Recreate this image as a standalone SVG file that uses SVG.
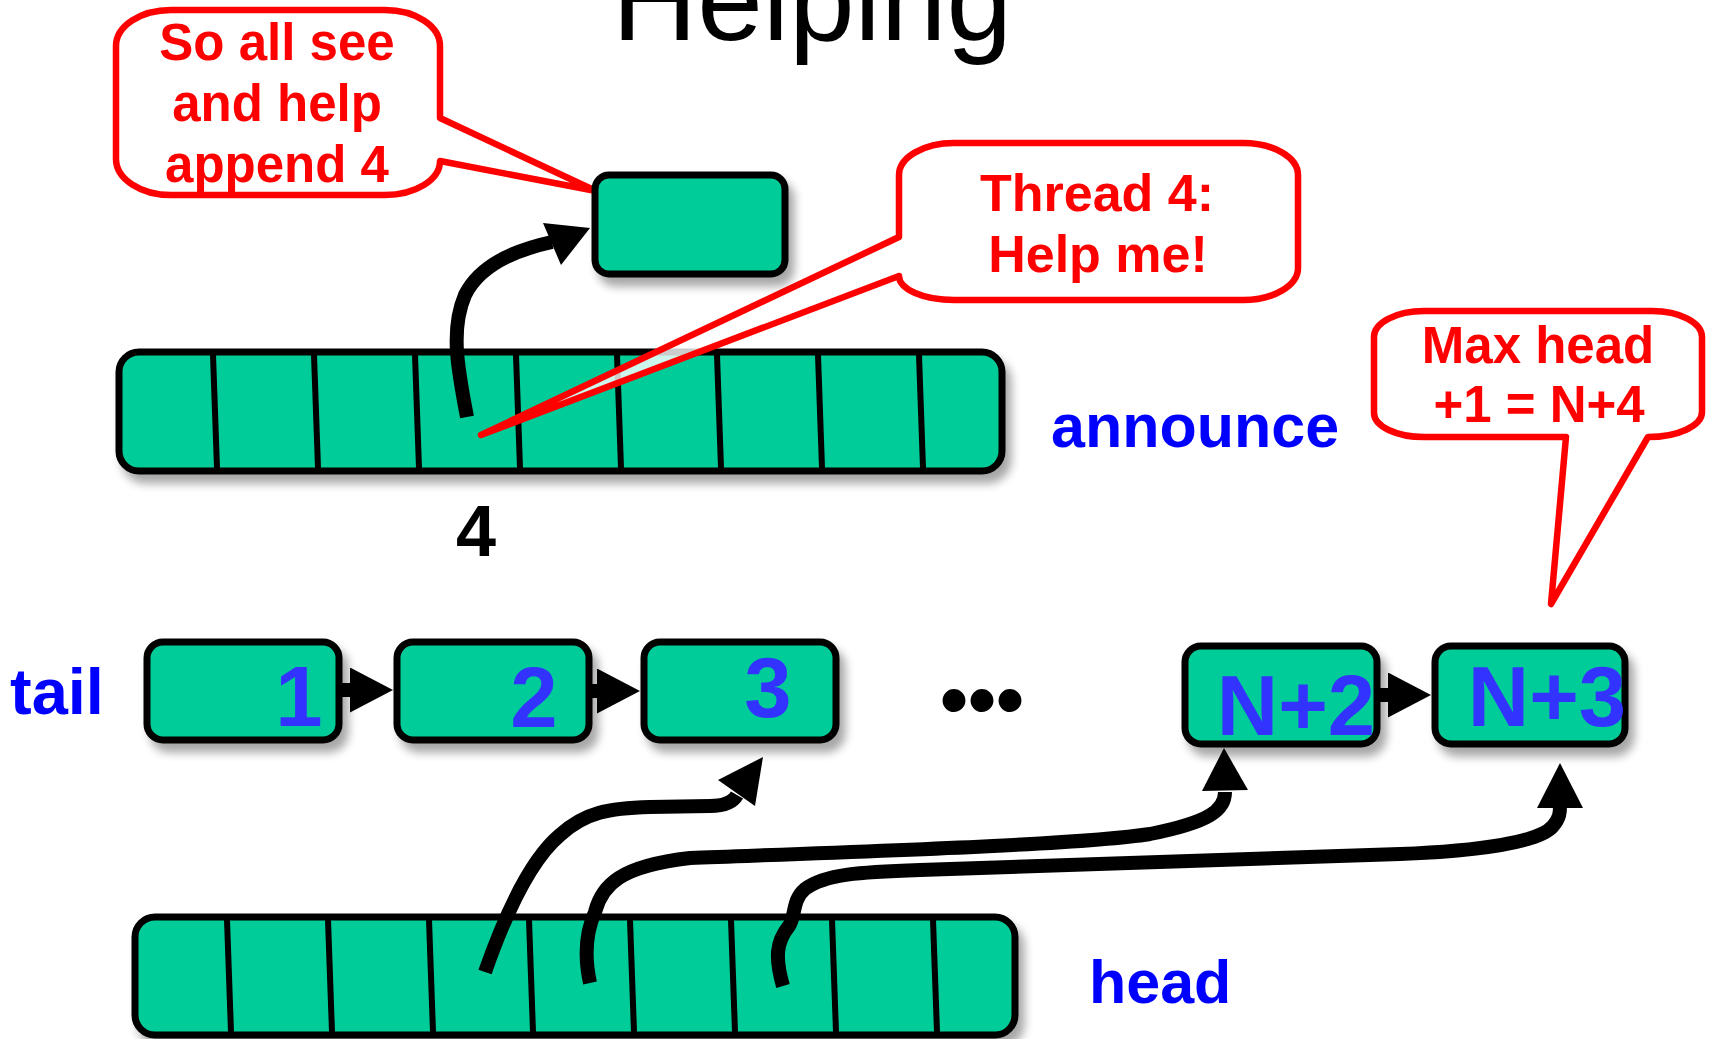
<svg xmlns="http://www.w3.org/2000/svg" width="1713" height="1039" viewBox="0 0 1713 1039">
  <defs>
    <!-- soft drop shadow shared by the green boxes and arrays -->
    <filter id="shadow" x="-10%" y="-20%" width="130%" height="160%">
      <feGaussianBlur in="SourceAlpha" stdDeviation="5"/>
      <feOffset dx="6" dy="9"/>
      <feComponentTransfer><feFuncA type="linear" slope="0.35"/></feComponentTransfer>
      <feMerge><feMergeNode/><feMergeNode in="SourceGraphic"/></feMerge>
    </filter>
    <marker id="link-head" markerUnits="userSpaceOnUse" viewBox="0 0 44 46" markerWidth="44" markerHeight="46" refX="10" refY="22.5" orient="auto">
      <path d="M0,0 L43,22.5 L0,45 Z" fill="#000"/>
    </marker>
    <style>
      .cell { fill: #00CC99; stroke: #000; stroke-width: 7; }
      .div { stroke: #000; stroke-width: 6; }
      .bubble { fill: #fff; fill-opacity: 0.8; stroke: #FF0000; stroke-width: 6.5; stroke-linejoin: round; }
      .red { font-family: "Liberation Sans", Arial, sans-serif; font-weight: bold; fill: #FF0000; text-anchor: middle; }
      .lbl { font-family: "Liberation Sans", Arial, sans-serif; font-weight: bold; fill: #0000FF; }
      .num { font-family: "Liberation Sans", Arial, sans-serif; font-weight: bold; font-size: 85px; fill: #3333FF; text-anchor: middle; }
      .wire { fill: none; stroke: #000; stroke-width: 14; }
      .head { fill: #000; }
      .link { stroke: #000; stroke-width: 14; marker-end: url(#link-head); }
    </style>
  </defs>

  <rect width="1713" height="1039" fill="#fff"/>

  <!-- title -->
  <text x="812" y="40" font-family="Liberation Sans, Arial, sans-serif" font-size="118" text-anchor="middle" fill="#000">Helping</text>

  <!-- announce array -->
  <g id="announce">
    <g filter="url(#shadow)">
      <rect class="cell" x="119" y="352" width="883" height="119" rx="20"/>
    </g>
    <line class="div" x1="213" y1="355" x2="217" y2="468"/>
    <line class="div" x1="314" y1="355" x2="318" y2="468"/>
    <line class="div" x1="415" y1="355" x2="419" y2="468"/>
    <line class="div" x1="516" y1="355" x2="520" y2="468"/>
    <line class="div" x1="617" y1="355" x2="621" y2="468"/>
    <line class="div" x1="717" y1="355" x2="721" y2="468"/>
    <line class="div" x1="818" y1="355" x2="822" y2="468"/>
    <line class="div" x1="919" y1="355" x2="923" y2="468"/>
    <text x="476" y="556" font-family="Liberation Sans, Arial, sans-serif" font-weight="bold" font-size="72" text-anchor="middle" fill="#000">4</text>
  </g>

  <!-- head array -->
  <g id="head-array">
    <g filter="url(#shadow)">
      <rect class="cell" x="135" y="917" width="880" height="118" rx="20"/>
    </g>
    <line class="div" x1="227" y1="920" x2="231" y2="1032"/>
    <line class="div" x1="328" y1="920" x2="332" y2="1032"/>
    <line class="div" x1="429" y1="920" x2="433" y2="1032"/>
    <line class="div" x1="529" y1="920" x2="533" y2="1032"/>
    <line class="div" x1="630" y1="920" x2="634" y2="1032"/>
    <line class="div" x1="731" y1="920" x2="735" y2="1032"/>
    <line class="div" x1="832" y1="920" x2="836" y2="1032"/>
    <line class="div" x1="933" y1="920" x2="937" y2="1032"/>
  </g>

  <!-- list nodes -->
  <g id="node-1">
    <rect class="cell" x="147" y="642" width="192" height="98" rx="16" filter="url(#shadow)"/>
    <text class="num" x="299" y="726">1</text>
  </g>
  <g id="node-2">
    <rect class="cell" x="397" y="642" width="192" height="98" rx="16" filter="url(#shadow)"/>
    <text class="num" x="534" y="727">2</text>
  </g>
  <g id="node-3">
    <rect class="cell" x="644" y="642" width="192" height="98" rx="16" filter="url(#shadow)"/>
    <text class="num" x="768" y="717">3</text>
  </g>
  <g id="ellipsis">
    <text x="982" y="727" font-family="Liberation Sans, Arial, sans-serif" font-weight="bold" font-size="80" text-anchor="middle" fill="#000">•••</text>
  </g>
  <g id="node-n2">
    <rect class="cell" x="1185" y="646" width="192" height="98" rx="16" filter="url(#shadow)"/>
    <text class="num" x="1296" y="735">N+2</text>
  </g>
  <g id="node-n3">
    <rect class="cell" x="1435" y="646" width="190" height="98" rx="16" filter="url(#shadow)"/>
    <text class="num" x="1547" y="726">N+3</text>
  </g>

  <!-- callouts -->
  <g id="callout-append">
    <path class="bubble" d="M171,10 H385 A55 36 0 0 1 440,46 V118 L596,191 L440,161 A55 34 0 0 1 385,195 H171 A55 36 0 0 1 116,159 V46 A55 36 0 0 1 171,10 Z"/>
    <text class="red" font-size="51" x="277" y="60">So all see</text>
    <text class="red" font-size="51" x="277" y="121">and help</text>
    <text class="red" font-size="51" x="277" y="182">append 4</text>
  </g>
  <g id="callout-thread">
    <path class="bubble" d="M954,143 H1243 A55 32 0 0 1 1298,175 V268 A55 32 0 0 1 1243,300 H954 A55 24 0 0 1 899,276 L481,435 L899,237 V175 A55 32 0 0 1 954,143 Z"/>
    <text class="red" font-size="52" x="1097" y="211">Thread 4:</text>
    <text class="red" font-size="52" x="1098" y="272">Help me!</text>
  </g>
  <g id="callout-max">
    <path class="bubble" d="M1424,311 H1652 A50 26 0 0 1 1702,337 V412 A54 25 0 0 1 1648,437 L1551,604 L1566,437 H1424 A50 24 0 0 1 1374,413 V337 A50 26 0 0 1 1424,311 Z"/>
    <text class="red" font-size="51" x="1538" y="363">Max head</text>
    <text class="red" font-size="51" x="1539" y="422">+1 = N+4</text>
  </g>

  <!-- thread 4's new node -->
  <g id="node-new">
    <rect class="cell" x="595" y="175" width="190" height="99" rx="14" filter="url(#shadow)"/>
  </g>

  <!-- pointers -->
  <g id="connectors">
    <path class="wire" d="M467,417 C458,370 450,330 465,295 C480,265 515,250 552,242"/>
    <polygon class="head" points="590,228 543,223 561,265"/>

    <line class="link" x1="339" y1="690" x2="360" y2="690"/>
    <line class="link" x1="589" y1="691" x2="607" y2="691"/>
    <line class="link" x1="1377" y1="695" x2="1398" y2="695"/>

    <path class="wire" d="M485,972 C505,915 530,860 560,835 C585,812 610,808 650,807 L710,806 C725,806 733,802 737,795"/>
    <polygon class="head" points="763,757 718,780 755,806"/>

    <path class="wire" d="M590,983 C584,955 586,932 595,912 C602,885 620,866 690,858 C850,852 1080,845 1150,834 C1210,822 1225,810 1225,792"/>
    <polygon class="head" points="1224,748 1202,791 1248,790"/>

    <path class="wire" d="M783,986 C775,958 776,942 789,926 C796,915 792,900 805,889 C825,874 860,872 920,870 L1400,854 C1480,851 1540,842 1553,826 C1560,818 1560,812 1560,806"/>
    <polygon class="head" points="1560,763 1537,808 1583,808"/>
  </g>

  <!-- labels -->
  <g id="labels">
    <text class="lbl" font-size="61" x="1051" y="447">announce</text>
    <text class="lbl" font-size="65" x="10" y="714">tail</text>
    <text class="lbl" font-size="61" x="1089" y="1003">head</text>
  </g>
</svg>
